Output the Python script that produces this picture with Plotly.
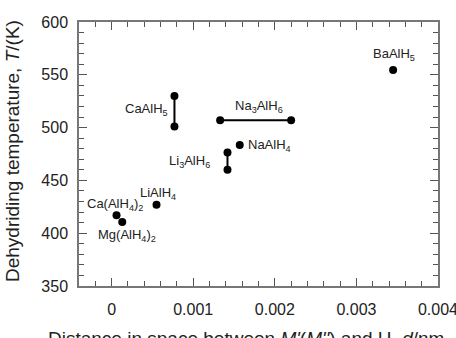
import plotly.graph_objects as go

# Data (d/nm, T/K)
ca_alh4_2 = ([0.00006], [417])
mg_alh4_2 = ([0.00013], [410.5])
li_alh4 = ([0.00055], [427])
ca_alh5 = ([0.00077, 0.00077], [530, 501])
na3_alh6 = ([0.00133, 0.0022], [507, 507])
li3_alh6 = ([0.00142, 0.00142], [476.5, 460])
na_alh4 = ([0.00157], [483.5])
ba_alh5 = ([0.00345], [554.5])

label_text = ["CaAlH<sub>5</sub>", "Na<sub>3</sub>AlH<sub>6</sub>", "NaAlH<sub>4</sub>",
              "Li<sub>3</sub>AlH<sub>6</sub>", "LiAlH<sub>4</sub>", "Ca(AlH<sub>4</sub>)<sub>2</sub>",
              "Mg(AlH<sub>4</sub>)<sub>2</sub>", "BaAlH<sub>5</sub>"]
label_x = [0.00043, 0.0018, 0.00193, 0.00095, 0.00057, 0.00004, 0.00019, 0.00346]
label_y = [517, 520, 483.5, 468, 438, 427, 398, 569]

x_tickvals = [0, 0.001, 0.002, 0.003, 0.004]
x_ticktext = ["0", "0.001", "0.002", "0.003", "0.004"]
y_tickvals = [350, 400, 450, 500, 550, 600]

FONT = "Arial, Liberation Sans, sans-serif"
W, H = 456, 338
L, R, T, B = 79, 18, 22, 52

fig = go.Figure()
for xs, ys in [ca_alh4_2, mg_alh4_2, li_alh4, ca_alh5, na3_alh6, li3_alh6, na_alh4, ba_alh5]:
    fig.add_trace(go.Scatter(x=xs, y=ys, mode="lines+markers",
                             line=dict(color="black", width=2),
                             marker=dict(color="black", size=8),
                             showlegend=False, hoverinfo="skip"))

for t, x, y in zip(label_text, label_x, label_y):
    fig.add_annotation(x=x, y=y, text=t, showarrow=False,
                       font=dict(family=FONT, size=13, color="#222"))

pw = W - L - R
ph = H - T - B
fig.add_annotation(xref="paper", yref="paper", x=(12 - L) / pw, y=(H - B - 151) / ph,
                   text="Dehydriding temperature, <i>T</i>/(K)", textangle=-90,
                   showarrow=False, xanchor="center", yanchor="middle",
                   font=dict(family=FONT, size=19, color="#222"))
fig.add_annotation(xref="paper", yref="paper", x=(246 - L) / pw, y=(H - B - 326) / ph,
                   text="Distance in space between <i>M'</i>(<i>M''</i>) and H, <i>d</i>/nm",
                   showarrow=False, xanchor="center", yanchor="top",
                   font=dict(family=FONT, size=19, color="#222"))

axis_common = dict(showline=True, linecolor="#777", linewidth=1.5, mirror="ticks",
                   ticks="inside", ticklen=8, tickcolor="#555", tickwidth=1.2,
                   showgrid=False, zeroline=False, automargin=False,
                   tickfont=dict(family=FONT, size=16, color="#222"))
fig.update_xaxes(range=[-0.0004, 0.0040001], tickvals=x_tickvals, ticktext=x_ticktext,
                 minor=dict(dtick=0.0002, tick0=0, ticks="inside", ticklen=5,
                            tickcolor="#555", tickwidth=1, showgrid=False),
                 ticklabelstandoff=8, ticklabeloverflow="allow", **axis_common)
fig.update_yaxes(range=[350, 600], tickvals=y_tickvals,
                 minor=dict(dtick=10, tick0=350, ticks="inside", ticklen=5,
                            tickcolor="#555", tickwidth=1, showgrid=False),
                 ticklabelstandoff=6, **axis_common)

fig.update_layout(width=W, height=H, margin=dict(l=L, r=R, t=T, b=B, autoexpand=False),
                  plot_bgcolor="white", paper_bgcolor="white")
fig.write_html("out.html")
